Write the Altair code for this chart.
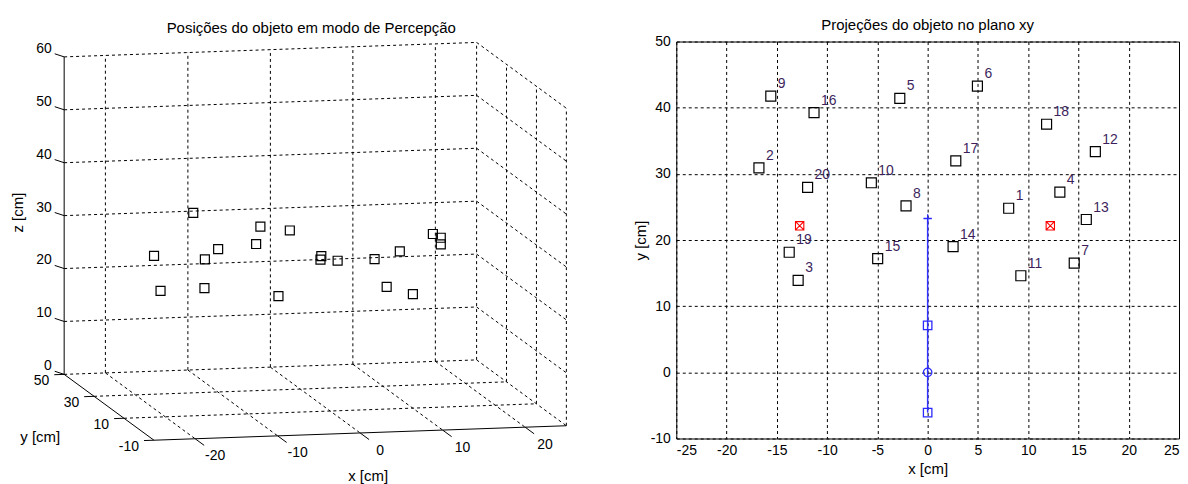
import altair as alt
import pandas as pd

# ---------------- data ----------------
OBJ_ID = [str(i) for i in range(1, 21)]
OBJ_X = [8.06, -16.78, -12.88, 13.15, -2.77, 4.95, 14.58, -2.15, -15.6, -5.6,
         9.27, 16.68, 15.78, 2.53, -4.97, -11.3, 2.8, 11.83, -13.77, -11.94]
OBJ_Y = [24.8, 30.9, 13.9, 27.25, 41.4, 43.25, 16.5, 25.15, 41.75, 28.65,
         14.6, 33.35, 23.1, 19.0, 17.2, 39.25, 31.95, 37.5, 18.15, 27.95]
OBJ_Z = [25.2, 19.3, 30.5, 17.8, 28.5, 22.1, 30.6, 31.1, 23.6, 28.0,
         28.7, 27.7, 27.9, 26.4, 20.5, 32.0, 23.9, 17.1, 22.3, 25.6]

TARGET_X = [-12.73, 12.2]
TARGET_Y = [22.15, 22.15]

ROBOT_X = [0.0, 0.0, 0.0, 0.0]
ROBOT_Y = [23.25, 7.1, 0.0, -6.1]
ROBOT_MARK = ["plus", "square", "circle", "square"]

X_LIM = [-25, 25]
Y_LIM = [-10, 50]
Z_LIM = [0, 60]
X_TICKS_3D = [-20, -10, 0, 10, 20]
Y_TICKS_3D = [-10, 10, 30, 50]
Z_TICKS_3D = [0, 10, 20, 30, 40, 50, 60]

X_TICKS_2D = [-25, -20, -15, -10, -5, 0, 5, 10, 15, 20, 25]
Y_TICKS_2D = [-10, 0, 10, 20, 30, 40, 50]

TITLE_3D = "Posições do objeto em modo de Percepção"
TITLE_2D = "Projeções do objeto no plano xy"
XLABEL, YLABEL, ZLABEL = "x [cm]", "y [cm]", "z [cm]"

# ---------------- 3D view (orthographic projection) ----------------
# screen position of corner (xmin, ymax, 0) and screen vectors per data unit
V = dict(ox=63.3, oy=372.7, xx=8.27, xy=-0.29, yx=-1.5, yy=-1.1, zy=-5.305)


def proj(xf, yf, zf):
    sx = (f"{V['ox']} + {V['xx']}*(datum.{xf} - ({X_LIM[0]})) "
          f"+ {V['yx']}*(datum.{yf} - ({Y_LIM[1]}))")
    sy = (f"{V['oy']} + {V['xy']}*(datum.{xf} - ({X_LIM[0]})) "
          f"+ {V['yy']}*(datum.{yf} - ({Y_LIM[1]})) + {V['zy']}*datum.{zf}")
    return sx, sy


X0, X1 = X_LIM
Y0, Y1 = Y_LIM
Z0, Z1 = Z_LIM

rows = []


def add(kind, p, q):
    rows.append(dict(kind=kind, x1=p[0], y1=p[1], z1=p[2], x2=q[0], y2=q[1], z2=q[2]))


# back wall (y = ymax)
for xt in X_TICKS_3D + [X1]:
    add("grid", (xt, Y1, Z0), (xt, Y1, Z1))
for zt in Z_TICKS_3D:
    add("grid", (X0, Y1, zt), (X1, Y1, zt))
# side wall (x = xmax)
for yt in Y_TICKS_3D[:-1]:
    add("grid", (X1, yt, Z0), (X1, yt, Z1))
for zt in Z_TICKS_3D:
    add("grid", (X1, Y1, zt), (X1, Y0, zt))
# floor (z = 0)
for xt in X_TICKS_3D:
    add("grid", (xt, Y1, Z0), (xt, Y0, Z0))
for yt in Y_TICKS_3D[1:-1]:
    add("grid", (X0, yt, Z0), (X1, yt, Z0))
# axis lines
add("axis", (X0, Y1, Z0), (X0, Y1, Z1))
add("axis", (X0, Y1, Z0), (X0, Y0, Z0))
add("axis", (X0, Y0, Z0), (X1, Y0, Z0))
# tick marks (lengths in data units)
TK_X, TK_Y, TK_ZX, TK_ZY = 6.0, 1.2, 0.6, 3.0
for xt in X_TICKS_3D:
    add("axis", (xt, Y0, Z0), (xt, Y0 - TK_X, Z0))
for yt in Y_TICKS_3D:
    add("axis", (X0, yt, Z0), (X0 - TK_Y, yt, Z0))
for zt in Z_TICKS_3D:
    add("axis", (X0, Y1, zt), (X0 - TK_ZX, Y1 + TK_ZY, zt))
seg_df = pd.DataFrame(rows)

lab_rows = []
for xt in X_TICKS_3D:
    lab_rows.append(dict(kind="x", px=xt, py=Y0 - TK_X, pz=Z0, text=str(xt)))
for yt in Y_TICKS_3D:
    lab_rows.append(dict(kind="y", px=X0 - TK_Y, py=yt, pz=Z0, text=str(yt)))
for zt in Z_TICKS_3D:
    lab_rows.append(dict(kind="z", px=X0 - TK_ZX, py=Y1 + TK_ZY, pz=zt, text=str(zt)))
lab_df = pd.DataFrame(lab_rows)

obj_df = pd.DataFrame(dict(id=OBJ_ID, x=OBJ_X, y=OBJ_Y, z=OBJ_Z))

# ---------------- left panel ----------------
# plot areas of both panels are top-aligned; left screen scale maps page pixels
LX0, LY0 = 8, 39
LW, LH = 600, 437
sxs = alt.Scale(domain=[LX0, LX0 + LW], nice=False, zero=False)
sys_ = alt.Scale(domain=[LY0, LY0 + LH], nice=False, zero=False, reverse=True)

s1x, s1y = proj("x1", "y1", "z1")
s2x, s2y = proj("x2", "y2", "z2")
seg = alt.Chart(seg_df).transform_calculate(sx1=s1x, sy1=s1y, sx2=s2x, sy2=s2y)
seg_enc = dict(x=alt.X("sx1:Q", scale=sxs, axis=None),
               y=alt.Y("sy1:Q", scale=sys_, axis=None),
               x2="sx2:Q", y2="sy2:Q")
grid3d = seg.transform_filter("datum.kind == 'grid'").mark_rule(
    color="black", strokeDash=[3, 3], strokeWidth=1).encode(**seg_enc)
axes3d = seg.transform_filter("datum.kind == 'axis'").mark_rule(
    color="black", strokeWidth=1).encode(**seg_enc)

ox, oy = proj("x", "y", "z")
pts3d = alt.Chart(obj_df).transform_calculate(sx=ox, sy=oy).mark_point(
    shape="square", size=81, filled=False, color="black", strokeWidth=1.2, opacity=1
).encode(x=alt.X("sx:Q", scale=sxs, axis=None), y=alt.Y("sy:Q", scale=sys_, axis=None))

lx, ly = proj("px", "py", "pz")
labbase = alt.Chart(lab_df).transform_calculate(sx=lx, sy=ly)
lab_enc = dict(x=alt.X("sx:Q", scale=sxs, axis=None),
               y=alt.Y("sy:Q", scale=sys_, axis=None), text="text:N")
labx = labbase.transform_filter("datum.kind == 'x'").mark_text(
    align="center", baseline="middle", dx=11, dy=11, fontSize=14, color="black").encode(**lab_enc)
laby = labbase.transform_filter("datum.kind == 'y'").mark_text(
    align="right", baseline="middle", dx=-5, dy=6, fontSize=14, color="black").encode(**lab_enc)
labz = labbase.transform_filter("datum.kind == 'z'").mark_text(
    align="right", baseline="middle", dx=-3, dy=-5, fontSize=14, color="black").encode(**lab_enc)

# dx/dy of rotated text act along the rotated text frame
ttl_df = pd.DataFrame([
    dict(px=0, py=Y0, pz=0, text=XLABEL, a=0, dx=8, dy=43, fs=15),
    dict(px=X0, py=20, pz=0, text=YLABEL, a=0, dx=-69, dy=30, fs=15),
    dict(px=X0, py=Y1, pz=30, text=ZLABEL, a=270, dx=3, dy=-46, fs=15),
    dict(px=0, py=Y1, pz=Z1, text=TITLE_3D, a=0, dx=41, dy=-22, fs=15),
])
ttl_layers = []
for _, r in ttl_df.iterrows():
    ttl_layers.append(
        alt.Chart(ttl_df[ttl_df.text == r.text]).transform_calculate(sx=lx, sy=ly).mark_text(
            align="center", baseline="middle", angle=int(r.a), dx=int(r.dx), dy=int(r.dy),
            fontSize=int(r.fs), color="black").encode(**lab_enc))

left = alt.layer(grid3d, axes3d, pts3d, labx, laby, labz, *ttl_layers).properties(
    width=LW, height=LH, view=alt.ViewBackground(stroke="transparent"))

# ---------------- right panel ----------------
neg = "datum.value < 0 ? '-' + abs(datum.value) : '' + datum.value"
xs = alt.Scale(domain=X_LIM, nice=False, zero=False)
ys = alt.Scale(domain=Y_LIM, nice=False, zero=False)
xenc = alt.X("x:Q", scale=xs, axis=alt.Axis(values=X_TICKS_2D, title=XLABEL, labelExpr=neg,
                                            labelPadding=5, titlePadding=4))
yenc = alt.Y("y:Q", scale=ys, axis=alt.Axis(values=Y_TICKS_2D, title=YLABEL, labelExpr=neg,
                                            labelPadding=6, titlePadding=2))
xe = alt.X("x:Q", scale=xs)
ye = alt.Y("y:Q", scale=ys)

pts2 = alt.Chart(obj_df).mark_point(
    shape="square", size=100, filled=False, color="black", strokeWidth=1.2, opacity=1
).encode(x=xenc, y=yenc)
txt2 = alt.Chart(obj_df).mark_text(
    align="left", baseline="middle", dx=7, dy=-12, fontSize=14, color="#3d1f5c"
).encode(x=xe, y=ye, text="id:N")

robot_df = pd.DataFrame(dict(x=ROBOT_X, y=ROBOT_Y, mark=ROBOT_MARK))
rline = alt.Chart(robot_df).mark_line(color="#3333ff", strokeWidth=1.5).encode(
    x=xe, y=ye, order="y:Q")
PLUS = "M-1,0H1M0,-1V1"
rpts = alt.Chart(robot_df).mark_point(filled=False, color="#2a2aff", strokeWidth=1.3,
                                      opacity=1, size=72).encode(
    x=xe, y=ye,
    shape=alt.Shape("mark:N", scale=alt.Scale(domain=["plus", "square", "circle"],
                                               range=[PLUS, "square", "circle"]), legend=None))

tgt_df = pd.DataFrame(dict(x=TARGET_X, y=TARGET_Y))
SQX = "M-1,-1H1V1H-1ZM-1,-1L1,1M-1,1L1,-1"
tgt = alt.Chart(tgt_df).mark_point(shape=SQX, size=70, filled=False, color="red",
                                   strokeWidth=1.1, opacity=1).encode(x=xe, y=ye)

right = alt.layer(pts2, txt2, rline, rpts, tgt).properties(
    width=504, height=398,
    view=alt.ViewBackground(stroke="black", strokeWidth=1),
    title=alt.TitleParams(TITLE_2D, fontSize=15, fontWeight="normal", offset=2,
                          frame="group", anchor="middle", color="black"))

chart = alt.hconcat(left, right, spacing=24).properties(
    padding={"left": 0, "top": 8, "right": 0, "bottom": 0}
).configure(font="Liberation Sans").configure_axis(
    grid=True, gridColor="black", gridDash=[3, 3], gridOpacity=1, gridWidth=1,
    domain=False, ticks=False, tickSize=0,
    labelFontSize=14, labelColor="black", titleFontSize=15, titleFontWeight="normal",
    titleColor="black", labelFont="Liberation Sans", titleFont="Liberation Sans"
).configure_title(font="Liberation Sans")

chart.save("out.html", embed_options={"renderer": "svg", "actions": False})
